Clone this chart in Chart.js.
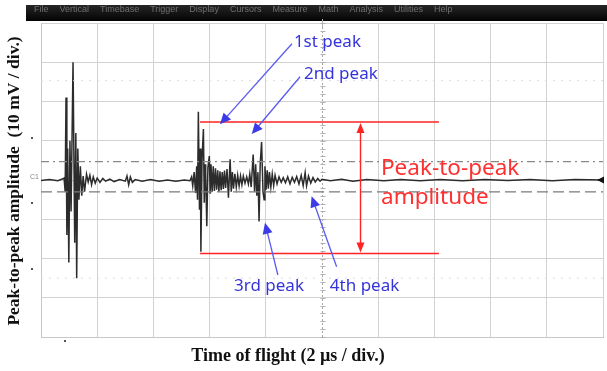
<!DOCTYPE html>
<html>
<head>
<meta charset="utf-8">
<script src="https://cdn.jsdelivr.net/npm/chart.js@4.4.1/dist/chart.umd.min.js"></script>
<style>
  html, body { margin: 0; padding: 0; background: #fff; }
  #wrap { width: 607px; height: 371px; }
</style>
</head>
<body>
<div id="wrap"><canvas id="scope" width="607" height="371"></canvas></div>
<script>
// Trace: time in µs (2 µs / div), amplitude in mV (10 mV / div)
const timeUs = [
  0, 0.3, 0.6, 0.78,
  0.82, 0.86, 0.89, 0.92, 0.95, 0.99, 1.03, 1.07, 1.14, 1.20, 1.24, 1.27, 1.31, 1.35, 1.40, 1.45,
  1.50, 1.55, 1.62, 1.68, 1.74, 1.80, 1.86, 1.93,
  2.0, 2.1, 2.2, 2.3, 2.45, 2.6, 2.8, 3.0, 3.06, 3.12, 3.18, 3.25, 3.35, 3.6, 3.9, 4.2, 4.5, 4.8, 5.1,
  5.30, 5.36, 5.40, 5.45, 5.50, 5.54, 5.57, 5.60, 5.64, 5.67, 5.69, 5.73, 5.78, 5.81, 5.84, 5.86,
  5.90, 5.94, 5.99, 6.02, 6.05, 6.09, 6.13, 6.17, 6.21, 6.25, 6.29, 6.33, 6.37, 6.41, 6.45, 6.49,
  6.53, 6.57, 6.62, 6.67, 6.73, 6.77, 6.81, 6.85, 6.90, 6.95, 7.00, 7.05, 7.10, 7.15, 7.20, 7.26,
  7.32, 7.38, 7.43, 7.48, 7.55, 7.60, 7.64, 7.68, 7.72, 7.76, 7.80, 7.85, 7.90, 7.94, 7.97, 8.01,
  8.05, 8.09, 8.13, 8.18, 8.23, 8.28, 8.33, 8.40, 8.47, 8.55, 8.62, 8.70, 8.78, 8.86, 8.94, 9.02,
  9.10, 9.18, 9.26, 9.33, 9.40, 9.45, 9.52, 9.60, 9.68, 9.76, 9.85, 9.93,
  10.0, 10.3, 10.7, 11.1, 11.6, 12.2, 12.8, 13.5, 14.2, 15.0, 15.8, 16.6, 17.4, 18.2, 19.0, 20.0
];
const ampMv = [
  -0.1, 0.1, -0.2, 0.3,
  0.5, -3, 21, -14, 8, -21, 10, -8, 30, -16, 12, -25, 8, -5, 3.5, -4,
  1, -3, 1.5, -0.5, 1.2, -1.2, 0.8, -0.8,
  0.5, -0.6, 0.4, -0.3, 0.2, -0.4, 0.1, -0.3, 1.0, -1.2, 0.8, -0.6, 0.1, -0.3, 0.1, -0.3, 0, -0.3, 0,
  -0.2, 0.8, -1.5, 2, -3.3, 3.5, -5, 17.4, -7.6, 8, -18.3, 5, 13, -5.8, 4, 2,
  -11.8, 3.2, 6.1, -3.5, 4, -3, 3.5, -2.8, 3, -2.5, 2.5, -3, 2.2, -2.6, 2, -2.3,
  2.4, -2, 2.8, -4.5, 5.3, -3, 2, -2.2, 1.6, -1.8, 1.2, -1.5, 1, -1.2, 1, -0.8,
  0.8, -1, 1.5, -1.8, 6.5, -3, 4, -4, 2, -10.6, 4, 9.7, -3, -5, 3.5, -2.5,
  2.5, -2.2, 2, -1.8, 1.5, -1.4, 1.2, -1, 0.8, -0.6, 0.6, -0.7, 0.8, -1, 0.7, -0.6,
  0.9, -1, 1.2, -1.4, 1.9, -1.5, 1, -0.8, 0.6, -0.5, 0.4, -0.3,
  0.2, -0.2, 0.2, -0.3, 0.1, -0.2, 0.1, -0.2, 0.1, -0.2, 0.1, -0.1, 0.1, -0.2, 0.1, 0
];

// axis ranges (10 divisions x 8 divisions)
const timeRange = [0, 20];
const ampRange = [-40, 40];

// scope reference levels (mV)
const dashDotLevel = 4.7;
const dashLevel = -3;
const dottedLevels = [25.3, -25];

// peak-to-peak marking
const p2pTop = 14.8;
const p2pBottom = -18.7;
const p2pStartUs = 5.66;
const p2pEndUs = 14.16;
const p2pArrowUs = 11.35;

// peak labels: [text, t, mV] and arrows: [tailT, tailMv, headT, headMv]
const peakLabels = [
  ['1st peak', 9.0, 35.1],
  ['2nd peak', 9.36, 27.0],
  ['3rd peak', 6.87, -27.1],
  ['4th peak', 10.28, -27.1]
];
const peakArrows = [
  [8.93, 34.7, 6.37, 14.2],
  [9.22, 26.3, 7.50, 11.7],
  [8.43, -24.2, 7.97, -10.9],
  [10.52, -22.1, 9.63, -4.15]
];
const p2pLabel = ['Peak-to-peak', 'amplitude'];
const p2pLabelPos = [12.1, 3.0, -4.4];

const menuItems = ['File', 'Vertical', 'Timebase', 'Trigger', 'Display', 'Cursors', 'Measure', 'Math', 'Analysis', 'Utilities', 'Help'];

const traceData = timeUs.map((t, i) => ({ x: t, y: ampMv[i] }));
const hLine = (y, x0, x1) => [{ x: x0, y: y }, { x: x1, y: y }];

function arrow(ctx, x1, y1, x2, y2, len, half) {
  const a = Math.atan2(y2 - y1, x2 - x1);
  ctx.beginPath();
  ctx.moveTo(x1, y1);
  ctx.lineTo(x2 - Math.cos(a) * len * 0.6, y2 - Math.sin(a) * len * 0.6);
  ctx.stroke();
  ctx.beginPath();
  ctx.moveTo(x2, y2);
  ctx.lineTo(x2 - Math.cos(a) * len - Math.sin(a) * half, y2 - Math.sin(a) * len + Math.cos(a) * half);
  ctx.lineTo(x2 - Math.cos(a) * len + Math.sin(a) * half, y2 - Math.sin(a) * len - Math.cos(a) * half);
  ctx.closePath();
  ctx.fill();
}

const overlay = {
  id: 'overlay',
  beforeDraw(chart) {
    const c = chart.ctx;
    c.save();
    c.fillStyle = '#fff';
    c.fillRect(0, 0, chart.width, chart.height);
    // menu bar of the scope
    const g = c.createLinearGradient(0, 5, 0, 21);
    g.addColorStop(0, '#262626');
    g.addColorStop(1, '#030303');
    c.fillStyle = g;
    c.fillRect(26, 5, 581, 16);
    c.fillStyle = '#6e6e6e';
    c.font = '9px "Liberation Sans", Arial, sans-serif';
    c.textBaseline = 'middle';
    let x = 34;
    menuItems.forEach(m => {
      c.fillText(m, x, 10);
      x += c.measureText(m).width + 11;
    });
    c.restore();
  },
  beforeDatasetsDraw(chart) {
    const c = chart.ctx;
    const xs = chart.scales.x, ys = chart.scales.y;
    const a = chart.chartArea;
    c.save();
    // centre graticule with minor ticks
    const cx = Math.round(xs.getPixelForValue(10)) + 0.5;
    c.strokeStyle = '#a8a8a8';
    c.lineWidth = 1;
    c.setLineDash([2, 2]);
    c.beginPath();
    c.moveTo(cx, a.top); c.lineTo(cx, a.bottom);
    c.stroke();
    c.setLineDash([]);
    c.strokeStyle = '#b0b0b0';
    c.beginPath();
    for (let v = ampRange[0]; v <= ampRange[1]; v += 2) {
      const py = Math.round(ys.getPixelForValue(v)) + 0.5;
      c.moveTo(cx - 2, py); c.lineTo(cx + 3, py);
    }
    c.moveTo(cx, a.top - 4); c.lineTo(cx, a.top + 4);
    c.stroke();
    c.restore();
  },
  afterDraw(chart) {
    const c = chart.ctx;
    const xs = chart.scales.x, ys = chart.scales.y;
    const a = chart.chartArea;
    const X = v => xs.getPixelForValue(v), Y = v => ys.getPixelForValue(v);
    c.save();
    // channel markers
    c.fillStyle = '#888';
    c.font = '7px "Liberation Sans", sans-serif';
    c.textBaseline = 'middle';
    c.fillText('C1', 30, Y(0) - 3);
    c.fillStyle = '#111';
    c.beginPath();
    c.moveTo(a.right - 6, Y(0)); c.lineTo(a.right + 1, Y(0) - 3.5); c.lineTo(a.right + 1, Y(0) + 3.5);
    c.closePath(); c.fill();
    c.fillStyle = '#555';
    [137, 202, 268].forEach(py => c.fillRect(31, py, 2, 2));
    c.fillRect(64, a.bottom + 3, 2, 2);

    // peak-to-peak double arrow
    c.strokeStyle = '#ff2323';
    c.fillStyle = '#ff2323';
    c.lineWidth = 1.4;
    const ax = Math.round(X(p2pArrowUs)) + 0.5;
    arrow(c, ax, (Y(p2pTop) + Y(p2pBottom)) / 2, ax, Y(p2pTop) + 1, 10, 4);
    arrow(c, ax, (Y(p2pTop) + Y(p2pBottom)) / 2, ax, Y(p2pBottom) - 1, 10, 4);
    c.fillStyle = '#ff3030';
    c.font = '22.5px "Noto Sans", "Open Sans", sans-serif';
    c.textBaseline = 'middle';
    c.fillText(p2pLabel[0], X(p2pLabelPos[0]), Y(p2pLabelPos[1]));
    c.fillText(p2pLabel[1], X(p2pLabelPos[0]), Y(p2pLabelPos[2]));

    // peak arrows and labels
    c.strokeStyle = '#5a5af0';
    c.fillStyle = '#3c3ce6';
    c.lineWidth = 1.3;
    peakArrows.forEach(p => arrow(c, X(p[0]), Y(p[1]), X(p[2]), Y(p[3]), 11, 5));
    c.fillStyle = '#3434dc';
    c.font = '17px "Noto Sans", "Open Sans", sans-serif';
    peakLabels.forEach(l => c.fillText(l[0], X(l[1]), Y(l[2])));

    // axis titles
    c.fillStyle = '#111';
    c.font = 'bold 18px "Liberation Serif", "Times New Roman", serif';
    c.textAlign = 'center';
    c.fillText('Time of flight (2 \u00b5s / div.)', 288, 356);
    c.translate(14, 181);
    c.rotate(-Math.PI / 2);
    c.font = 'bold 17.5px "Liberation Serif", "Times New Roman", serif';
    c.fillText('Peak-to-peak amplitude  (10 mV / div.)', 0, 0);
    c.restore();
  }
};

const lineDs = (data, color, width, dash) => ({
  data: data, borderColor: color, borderWidth: width, borderDash: dash || [],
  pointRadius: 0, fill: false, tension: 0
});

new Chart(document.getElementById('scope').getContext('2d'), {
  type: 'line',
  data: {
    datasets: [
      lineDs(hLine(dottedLevels[0], timeRange[0], timeRange[1]), '#dadada', 1, [2, 6]),
      lineDs(hLine(dottedLevels[1], timeRange[0], timeRange[1]), '#dadada', 1, [2, 6]),
      lineDs(hLine(dashDotLevel, timeRange[0], timeRange[1]), '#8a8a8a', 1.3, [8, 4, 2, 4]),
      lineDs(hLine(dashLevel, timeRange[0], timeRange[1]), '#7a7a7a', 1.3, [11, 5]),
      lineDs(traceData, '#2c2c2c', 1.5),
      lineDs(hLine(p2pTop, p2pStartUs, p2pEndUs), '#ff2323', 1.5),
      lineDs(hLine(p2pBottom, p2pStartUs, p2pEndUs), '#ff2323', 1.5)
    ]
  },
  options: {
    responsive: false,
    animation: false,
    devicePixelRatio: 1,
    layout: { padding: { left: 41, top: 23, right: 4, bottom: 34 } },
    plugins: { legend: { display: false }, tooltip: { enabled: false } },
    scales: {
      x: {
        type: 'linear', min: timeRange[0], max: timeRange[1],
        ticks: { display: false, stepSize: 2 },
        grid: { color: ctx => ctx.tick && ctx.tick.value === 10 ? 'rgba(0,0,0,0)' : '#d2d2d2', drawTicks: false, lineWidth: 1 },
        border: { display: true, color: '#c8c8c8' }
      },
      y: {
        type: 'linear', min: ampRange[0], max: ampRange[1],
        ticks: { display: false, stepSize: 10 },
        grid: { color: '#d2d2d2', drawTicks: false, lineWidth: 1 },
        border: { display: true, color: '#c8c8c8' }
      }
    }
  },
  plugins: [overlay]
});
</script>
</body>
</html>
